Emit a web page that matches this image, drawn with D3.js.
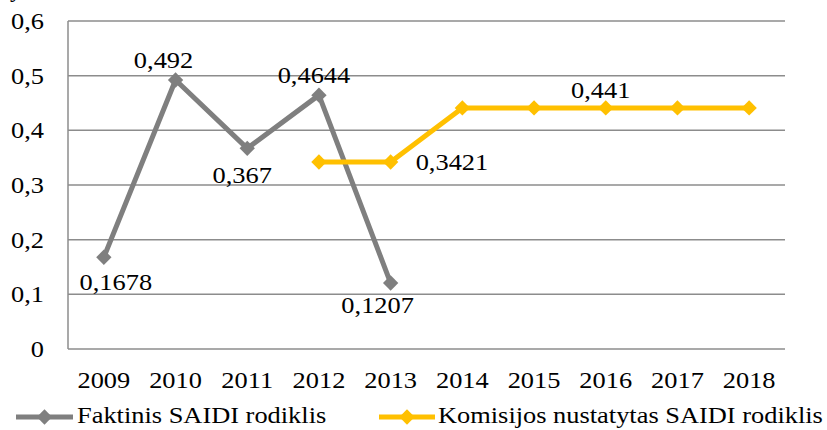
<!DOCTYPE html>
<html>
<head>
<meta charset="utf-8">
<script src="https://cdn.jsdelivr.net/npm/d3@7"></script>
<style>
  body{margin:0;background:#fff}
</style>
</head>
<body>
<svg id="chart" width="827" height="430"></svg>
<script>
// data
const years=["2009","2010","2011","2012","2013","2014","2015","2016","2017","2018"]
const faktinis=[0.1678,0.492,0.367,0.4644,0.1207,null,null,null,null,null]
const komisijos=[null,null,null,0.3421,0.3421,0.441,0.441,0.441,0.441,0.441]
const yTicks=[0,0.1,0.2,0.3,0.4,0.5,0.6]
const seriesNames=["Faktinis SAIDI rodiklis","Komisijos nustatytas SAIDI rodiklis"]
// which points get a label, and where it sits relative to the point
const faktLabels=[
  {i:0,text:"0,1678",dx:12,dy:33,anchor:"middle"},
  {i:1,text:"0,492",dx:-12,dy:-12,anchor:"middle"},
  {i:2,text:"0,367",dx:-5,dy:35,anchor:"middle"},
  {i:3,text:"0,4644",dx:-5,dy:-12,anchor:"middle"},
  {i:4,text:"0,1207",dx:-13,dy:30,anchor:"middle"}
]
const komLabels=[
  {i:4,text:"0,3421",dx:25,dy:8,anchor:"start"},
  {i:7,text:"0,441",dx:-5,dy:-10,anchor:"middle"}
]

const grey="#7f7f7f", gold="#ffc000", gridC="#8c8c8c"
const FS=24, SX=1.1 // font is a bit stretched sideways in the original
const FONT="Liberation Serif"
const svg=d3.select("#chart")
const m={left:68,right:785,top:21,bottom:349}

const x=d3.scaleBand().domain(years).range([m.left,m.right])
const y=d3.scaleLinear().domain([0,0.6]).range([m.bottom,m.top])
const cx=d=>x(d)+x.bandwidth()/2

function txt(g,tx,ty){
  return g.attr("transform",(d,i)=>`translate(${tx(d,i)},${ty(d,i)}) scale(${SX},1)`)
    .style("font-family",FONT).attr("font-size",FS).attr("fill","#000")
}

// clipped axis title remnant at the very top
svg.append("text").attr("x",10).attr("y",-3)
  .style("font-family",FONT).attr("font-size",FS).text("y")

// grid
svg.append("g").selectAll("line").data(yTicks).join("line")
  .attr("x1",m.left).attr("x2",m.right)
  .attr("y1",d=>y(d)).attr("y2",d=>y(d))
  .attr("stroke",gridC).attr("stroke-width",1.5)
svg.append("line").attr("x1",m.left).attr("x2",m.left)
  .attr("y1",m.top).attr("y2",m.bottom)
  .attr("stroke",gridC).attr("stroke-width",1.5)

// y labels
txt(svg.append("g").selectAll("text").data(yTicks).join("text"),()=>44,d=>y(d)+8)
  .attr("text-anchor","end")
  .text(d=>d===0?"0":d3.format(".1f")(d).replace(".",","))

// x labels
txt(svg.append("g").selectAll("text").data(years).join("text"),d=>cx(d),()=>388)
  .attr("text-anchor","middle")
  .text(d=>d)

const diamond=d3.symbol().type(d3.symbolDiamond2).size(150)

function drawSeries(vals,color,labels){
  const pts=years.map((yr,i)=>({yr,v:vals[i]}))
  const line=d3.line().defined(d=>d.v!=null).x(d=>cx(d.yr)).y(d=>y(d.v))
  svg.append("path").datum(pts).attr("d",line)
    .attr("fill","none").attr("stroke",color).attr("stroke-width",5)
    .attr("stroke-linejoin","round")
  svg.append("g").selectAll("path").data(pts.filter(d=>d.v!=null)).join("path")
    .attr("d",diamond)
    .attr("transform",d=>`translate(${cx(d.yr)},${y(d.v)})`)
    .attr("fill",color)
  txt(svg.append("g").selectAll("text").data(labels).join("text"),
      d=>cx(years[d.i])+d.dx, d=>y(vals[d.i])+d.dy)
    .attr("text-anchor",d=>d.anchor)
    .text(d=>d.text)
}
drawSeries(faktinis,grey,faktLabels)
drawSeries(komisijos,gold,komLabels)

// legend
const legend=[{name:seriesNames[0],color:grey,x1:16,x2:73,tx:77},
              {name:seriesNames[1],color:gold,x1:379,x2:435,tx:438}]
const lg=svg.append("g").selectAll("g").data(legend).join("g")
lg.append("line").attr("x1",d=>d.x1).attr("x2",d=>d.x2)
  .attr("y1",417).attr("y2",417)
  .attr("stroke",d=>d.color).attr("stroke-width",5)
lg.append("path").attr("d",diamond)
  .attr("transform",d=>`translate(${(d.x1+d.x2)/2},417)`)
  .attr("fill",d=>d.color)
txt(lg.append("text"),d=>d.tx,()=>423)
  .text(d=>d.name)
</script>
</body>
</html>
